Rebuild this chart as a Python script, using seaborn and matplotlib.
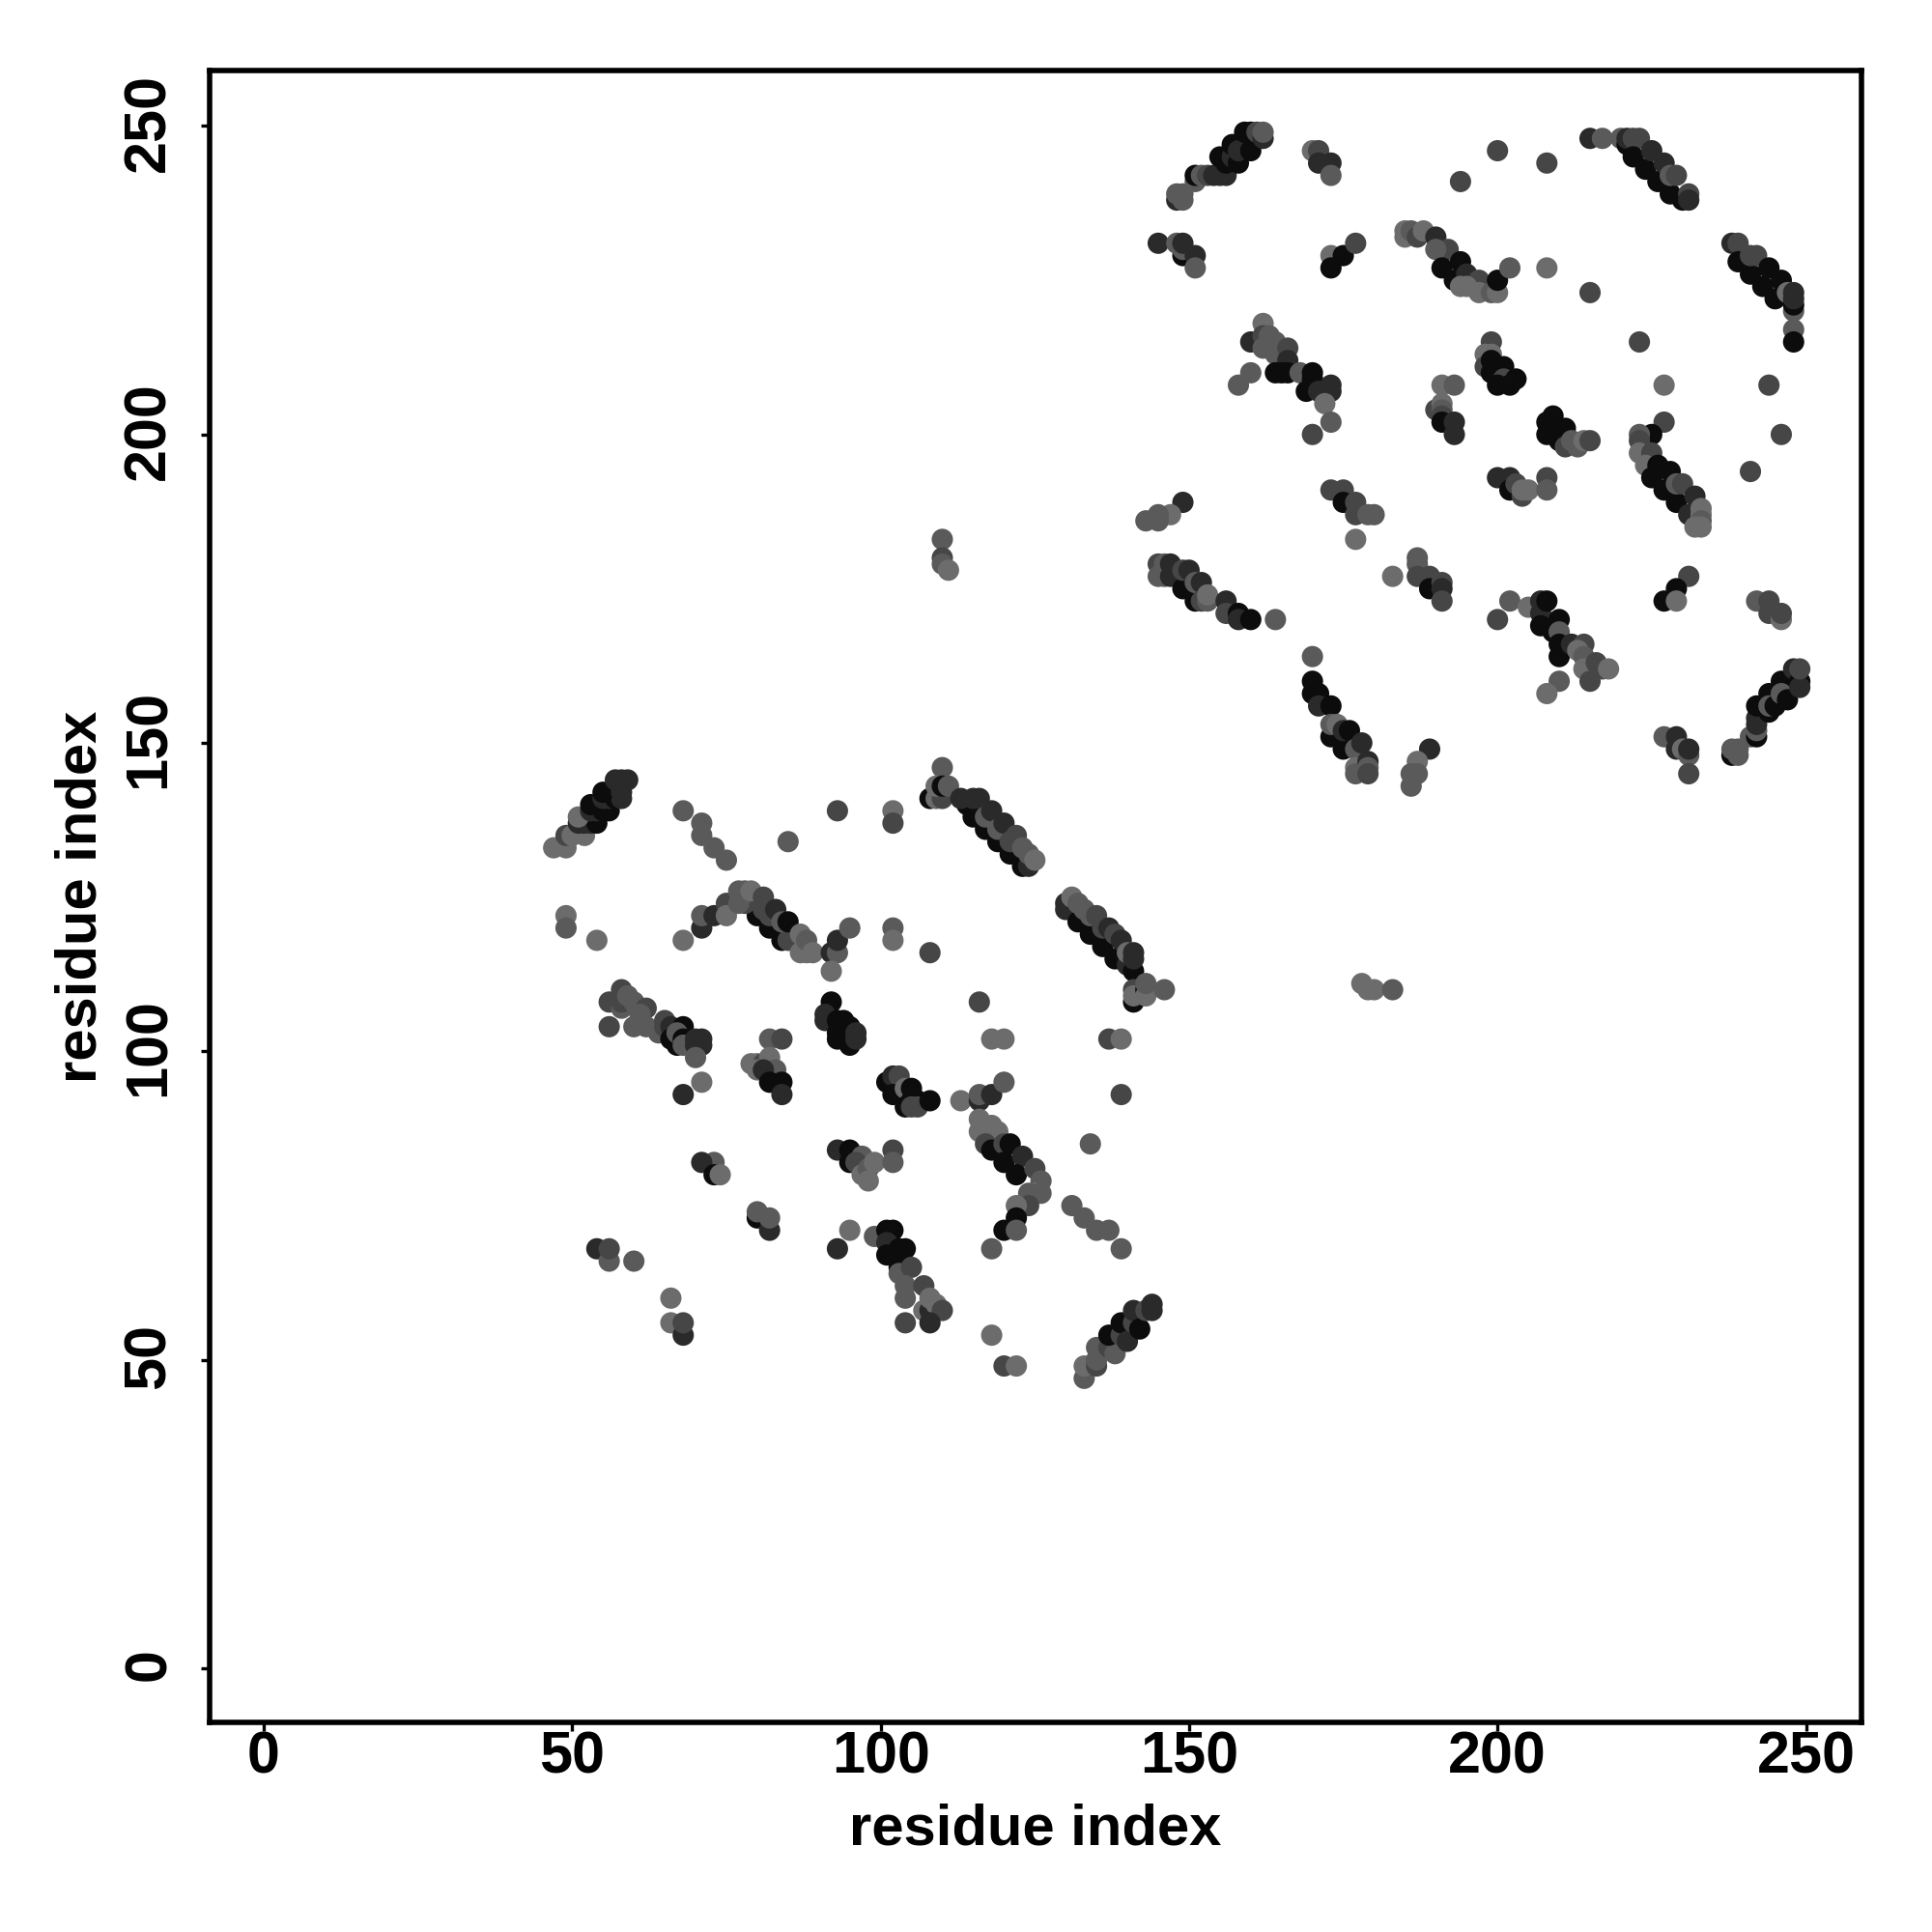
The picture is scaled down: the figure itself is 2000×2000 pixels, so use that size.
import matplotlib
matplotlib.use("Agg")
import matplotlib.pyplot as plt
from matplotlib.transforms import ScaledTranslation
import pandas as pd
import seaborn as sns

# each contact: (residue i, residue j, shade class 0 = lightest ... 4 = darkest)
band_a = [(47,133,0),(49,133,0),(49,135,2),(50,135,0),(52,135,0),(51,137,3),(52,137,3),(53,137,3),(54,137,4),
          (51,138,0),(53,139,3),(54,139,3),(55,139,4),(56,139,4),(53,140,4),(55,141,3),(56,141,3),(57,141,4),(58,141,3),
          (55,142,4),(58,142,3),(57,144,3),(58,144,3),(59,144,3)]
iso_a = [(68,139,1),(71,137,1),(71,135,1),(73,133,1),(75,131,1),(93,139,2),(85,134,1),(49,122,0),(49,120,1),(54,118,0),(68,118,0)]
band_b = [(71,120,3),(71,122,1),(73,122,3),(75,124,2),(75,122,0),(80,122,4),(82,120,4),(84,118,4),(85,119,4),(85,118,2),
          (78,124,2),(77,124,1),(77,126,1),(78,126,1),(79,126,0),(81,123,2),(81,125,2),(82,122,2),(83,123,3),(84,121,1),(85,121,4),
          (87,119,0),(87,116,0),(88,116,0),(88,118,1),(89,116,0),(92,116,3),(93,116,1),(93,118,3),(92,113,0),(95,120,1)]
band_c = [(56,108,2),(56,104,2),(58,107,1),(58,110,2),(58,108,2),(59,109,1),(60,108,1),(62,107,2),(60,104,1),(62,104,1),(61,106,1),
          (64,103,1),(65,105,2),(65,104,2),(66,104,3),(66,102,4),(67,101,4),(68,104,4),(67,103,1),(68,102,4),(68,101,1),
          (70,102,3),(70,101,3),(71,102,3),(71,101,3),(70,99,1)]
cluster_d = [(92,108,4),(91,106,3),(91,105,3),(93,105,4),(94,105,4),(95,104,4),(93,103,4),(93,102,4),(95,101,4),(96,103,3),(96,102,3)]
cluster_e = [(82,102,1),(84,102,2),(79,98,0),(80,98,0),(81,98,2),(82,99,0),(83,97,1),(80,97,0),(81,97,3),(82,95,4),(84,95,4),(84,93,3),
             (71,95,0),(68,93,3),(73,82,1),(71,82,3),(73,80,4),(74,80,0),(80,73,4),(80,74,1),(82,71,3),(82,73,1),
             (54,68,3),(56,66,1),(56,68,2),(60,66,1),(66,60,0),(66,56,0),(68,54,3),(68,56,2)]
band_f = [(102,139,0),(102,137,2),(110,146,1),(108,141,4),(109,141,0),(110,141,2),(109,143,0),(110,143,4),(111,143,1),
          (114,140,4),(115,138,4),(117,136,4),(119,134,4),(121,132,4),(123,130,4),(124,130,3),
          (113,141,3),(115,141,3),(116,141,3),(117,138,1),(118,139,3),(119,136,1),(120,137,3),(121,134,2),(122,135,2),
          (123,133,1),(124,132,1),(125,131,0)]
iso_b = [(102,120,1),(102,118,0),(108,116,2),(116,108,2),(118,102,0),(120,102,0),(137,102,2),(139,102,0),
         (110,183,1),(110,180,2),(110,179,1),(111,178,0),(178,111,0),(179,110,0),(180,110,0),(183,110,1)]
band_g = [(130,123,3),(130,124,3),(131,125,0),(132,121,4),(134,119,4),(136,117,4),(138,115,4),(132,124,1),(133,123,1),
          (134,122,1),(135,122,2),(136,120,2),(137,120,3),(138,119,2),(139,118,3),(140,114,3),(141,113,4),(140,116,0),(141,116,3),(141,115,3),
          (141,108,4),(141,110,2),(141,109,0),(143,110,4),(143,109,0),(143,111,1),(146,110,1)]
cluster_h = [(101,95,4),(102,96,3),(103,96,2),(102,93,4),(104,94,0),(105,94,4),(105,92,4),(106,92,4),(104,91,4),(105,91,2),(106,91,2),(108,92,4),
             (113,92,0),(116,92,3),(116,93,1),(118,93,3),(120,95,1),(139,93,2),(134,85,1)]
band_i = [(116,89,0),(116,87,0),(118,88,0),(119,87,0),(117,85,2),(118,84,4),(120,85,2),(121,85,4),(120,82,4),(123,83,3),(122,80,4),
          (125,81,2),(126,79,1),(125,77,0),(124,77,1),(126,77,1),(124,75,2),(122,75,0),(122,73,4),(120,71,4),(122,71,1),(118,68,1),
          (131,75,1),(133,73,1),(135,71,1),(137,71,1),(139,68,1)]
cluster_j = [(93,84,3),(95,84,4),(95,82,4),(97,83,1),(96,82,2),(97,80,0),(98,81,1),(98,79,0),(99,82,0),(102,84,2),(102,82,1)]
band_k = [(95,71,0),(93,68,3),(99,70,1),(101,71,4),(102,71,4),(101,69,3),(101,67,4),(103,68,4),(104,68,4),(103,65,4),(103,64,1),(105,65,2),
          (104,62,1),(104,60,1),(107,62,2),(107,58,0),(108,58,3),(108,60,0),(109,59,0),(110,58,2),(104,56,2),(108,56,3),
          (118,54,0),(120,49,2),(122,49,0)]
band_l = [(133,47,1),(133,49,0),(135,49,2),(135,50,1),(135,52,1),(137,52,2),(138,51,1),(137,54,4),(139,54,2),(139,56,4),(140,53,3),
          (141,56,2),(141,58,3),(142,55,4),(143,58,2),(144,58,3),(144,59,3)]
band_m = [(148,238,3),(148,239,1),(149,238,1),(149,239,1),(151,241,1),(151,242,4),(152,242,1),(153,242,2),(154,242,3),(155,242,3),(156,242,3),
          (155,245,4),(156,244,4),(157,245,3),(157,247,4),(158,244,4),(158,246,3),(159,249,4),(160,246,4),(160,249,4),(161,249,2),(162,248,3),(162,249,1),
          (170,246,0),(171,246,2),(171,244,3),(173,244,3),(173,242,1)]
cluster_n = [(145,231,3),(148,231,1),(149,229,4),(149,230,1),(149,231,3),(151,229,3),(151,227,1),(173,229,0),(175,229,4),(177,231,2),(173,227,4)]
cluster_o = [(162,218,0),(160,215,3),(162,216,2),(162,214,1),(163,216,1),(164,215,1),(164,213,1),(166,214,2),(166,212,3),
             (164,210,4),(165,210,4),(166,210,4),(168,210,1),(170,209,4),(170,210,4),(169,207,4),(171,207,3),(173,208,3),(173,207,3),
             (160,210,1),(158,208,1),(172,205,0),(173,202,1),(170,200,2)]
cluster_p = [(149,189,3),(147,187,0),(145,186,1),(145,187,1),(143,186,1),(173,191,2),(175,191,2),(175,189,4),(177,189,2),(177,187,2),(179,187,1),(180,187,1),(177,183,0)]
band_q = [(145,179,2),(145,177,1),(146,179,1),(146,177,1),(147,179,3),(147,177,3),(149,175,4),(149,178,2),(150,178,3),(151,173,4),(151,176,1),
          (152,176,3),(152,173,2),(153,173,1),(153,174,0),(156,173,3),(156,171,2),(158,171,4),(158,170,3),(160,170,4),(164,170,1)]
band_r = [(170,164,1),(170,160,4),(170,158,4),(171,158,4),(171,156,3),(173,156,4),(173,151,4),(173,153,1),(174,153,0),(175,149,4),(175,152,3),(176,152,4),
          (177,149,1),(178,150,3),(177,146,0),(177,145,1),(179,147,3),(179,146,1),(179,145,2)]
cluster_s = [(183,177,0),(187,180,1),(187,179,1),(187,177,2),(189,177,2),(189,175,4),(191,176,2),(191,175,3),(191,173,2),
             (189,149,3),(187,147,0),(186,145,1),(187,145,1),(186,143,1)]
band_t = [(185,233,0),(185,232,0),(186,233,1),(187,232,2),(188,233,0),(190,232,3),(192,230,2),(190,230,1),(191,227,4),(193,225,4),(194,228,4),(195,226,3),
          (197,225,2),(194,224,0),(195,224,0),(197,223,0),(199,223,1),(200,223,0),(200,225,4),(202,227,1),(208,227,0),(215,223,2)]
iso_c = [(200,246,2),(208,244,2),(194,241,2),(215,248,3),(217,248,1),(223,215,2),(227,208,0),(244,208,2),(227,202,2),(246,200,2),(241,194,2)]
band_u = [(220,248,1),(221,247,4),(221,248,3),(222,248,2),(223,248,2),(222,245,4),(224,243,4),(226,241,4),(228,239,4),
          (225,246,3),(227,244,3),(228,242,1),(229,242,2),(230,238,4),(231,239,2),(231,238,3)]
band_v = [(238,231,3),(239,231,2),(239,228,4),(241,226,4),(241,229,2),(242,229,2),(243,224,4),(244,227,4),(245,222,4),(246,225,4),
          (247,223,0),(248,220,1),(248,221,4),(248,222,3),(248,223,3),(248,217,1),(248,215,4)]
cluster_w = [(199,215,2),(198,213,0),(199,213,0),(198,211,2),(199,212,4),(199,210,4),(201,211,4),(201,209,2),(200,208,4),(202,208,4),(203,209,4),
             (191,208,0),(193,208,1),(190,204,2),(191,205,0),(191,204,1),(191,203,2),(191,202,4),(193,202,3),(193,200,3)]
cluster_x = [(209,203,4),(208,202,4),(208,200,4),(210,199,4),(211,201,4),(211,200,4),(211,198,2),(212,199,1),(213,198,1),(214,199,0),(215,199,2),
             (200,193,3),(202,193,3),(202,191,4),(203,192,2),(204,190,2),(204,191,0),(205,191,0),(208,193,2),(208,191,1)]
band_y = [(225,200,4),(223,200,1),(223,199,2),(223,197,0),(225,197,2),(224,195,0),(226,195,4),(225,193,4),(227,191,4),(228,194,4),(229,189,4),
          (229,192,1),(230,192,2),(231,187,3),(232,190,3),(233,188,0),(233,187,0),(233,186,1),(232,185,0),(233,185,0)]
cluster_z = [(231,177,2),(229,175,4),(227,173,4),(229,173,0),(242,173,1),(244,173,2),(244,171,2),(246,170,0),(246,171,2)]
band_aa = [(202,173,1),(200,170,2),(205,172,0),(207,171,3),(207,173,3),(208,173,4),(207,169,4),(209,168,4),(210,170,4),(210,168,1),(210,166,4),(210,164,4),
           (212,166,3),(214,166,2),(213,165,0),(214,164,1),(215,162,3),(214,162,0),(216,163,2),(217,162,2),(218,162,0),(215,160,2),(210,160,1),(208,158,0)]
band_ab = [(238,148,4),(238,149,1),(239,148,1),(239,149,1),(241,151,1),(242,151,4),(242,152,1),(242,153,3),(242,154,3),(242,156,4),(244,158,4),(244,155,4),
           (244,156,1),(245,156,4),(246,160,4),(246,158,1),(247,157,4),(248,162,3),(249,160,4),(249,159,3),(249,162,2),
           (227,151,1),(229,151,3),(229,149,3),(230,149,0),(231,148,1),(231,149,3),(231,145,2)]

all_groups = [band_a, iso_a, band_b, band_c, cluster_d, cluster_e, band_f, iso_b, band_g, cluster_h, band_i, cluster_j,
              band_k, band_l, band_m, cluster_n, cluster_o, cluster_p, band_q, band_r, cluster_s, band_t, iso_c, band_u,
              band_v, cluster_w, cluster_x, band_y, cluster_z, band_aa, band_ab]
contacts = pd.DataFrame([row for group in all_groups for row in group], columns=["i", "j", "shade"])
shade_colors = {0: "#6c6c6c", 1: "#5a5a5a", 2: "#464646", 3: "#2a2a2a", 4: "#0c0c0c"}
ticks = [0, 50, 100, 150, 200, 250]
axis_title = "residue index"

sns.set_theme(style="white")
plt.rcParams["font.family"] = ["Liberation Sans", "DejaVu Sans"]
plt.rcParams["font.weight"] = "bold"

fig = plt.figure(figsize=(10, 10), dpi=200)
ax = fig.add_axes([217 / 2000, 1 - 1783 / 2000, 1710 / 2000, 1710 / 2000])
sns.scatterplot(data=contacts, x="i", y="j", hue="shade", palette=shade_colors, legend=False,
                s=63, linewidth=0, ax=ax, zorder=3)
ax.set_xlim(-8.77, 259)
ax.set_ylim(-8.77, 259)
ax.set_xticks(ticks)
ax.set_yticks(ticks)
ax.set_xticklabels([str(t) for t in ticks], fontsize=22, fontweight="bold", color="black")
ax.set_yticklabels([str(t) for t in ticks], fontsize=22, fontweight="bold", color="black", rotation=90, va="center")
ax.tick_params(axis="x", direction="out", length=3.4, width=1.2, color="black", bottom=True, pad=-0.2)
ax.tick_params(axis="y", direction="out", length=3.4, width=1.2, color="black", left=True, pad=8.6)
shift_up = ScaledTranslation(0, 1.4 / 72, fig.dpi_scale_trans)
for lab in ax.get_yticklabels():
    lab.set_transform(lab.get_transform() + shift_up)
ax.set_xlabel(axis_title, fontsize=21.5, fontweight="bold", color="black", labelpad=6.5)
ax.set_ylabel(axis_title, fontsize=21.5, fontweight="bold", color="black", labelpad=5.5)
for spine in ax.spines.values():
    spine.set_linewidth(2.0)
    spine.set_color("black")
fig.savefig("out.png", dpi=200, facecolor="white")
